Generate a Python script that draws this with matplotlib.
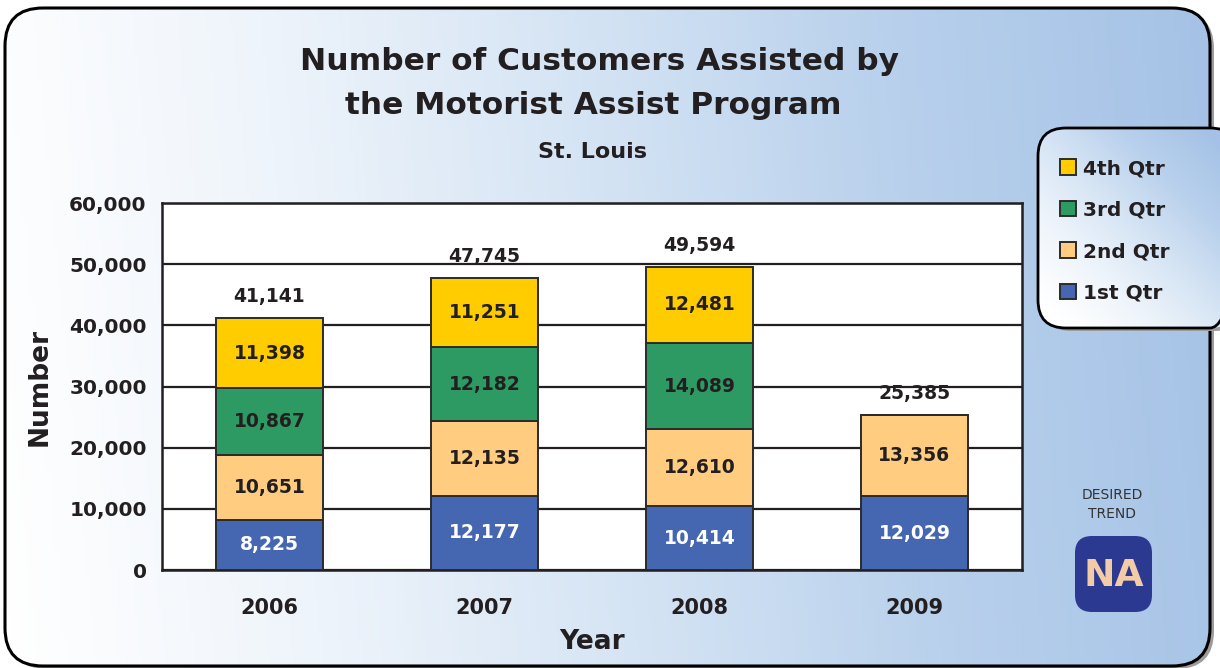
import numpy as np
import matplotlib.pyplot as plt
from matplotlib.patches import FancyBboxPatch
from matplotlib.colors import LinearSegmentedColormap

# data
years = ['2006', '2007', '2008', '2009']
q1 = [8225, 12177, 10414, 12029]
q2 = [10651, 12135, 12610, 13356]
q3 = [10867, 12182, 14089, 0]
q4 = [11398, 11251, 12481, 0]
totals = [41141, 47745, 49594, 25385]
quarters = ['1st Qtr', '2nd Qtr', '3rd Qtr', '4th Qtr']
colors = ['#4566b0', '#ffcc80', '#2e9a63', '#ffcc00']
text_colors = ['white', '#231f20', '#231f20', '#231f20']
yticks = [0, 10000, 20000, 30000, 40000, 50000, 60000]

fig = plt.figure(figsize=(12.2, 6.68), dpi=100)
fig.patch.set_facecolor('white')

# background in pixel coordinates
bg = fig.add_axes([0, 0, 1, 1])
bg.axis('off')

cmap = LinearSegmentedColormap.from_list('panel', ['#ffffff', '#eef4fb', '#d5e4f4', '#b8d0ec', '#a5c2e6'])

# shadow + rounded panel with gradient
shadow = FancyBboxPatch((9, 11), 1205, 658, boxstyle='round,pad=0,rounding_size=38',
                        fc='#9c9c9c', ec='none', zorder=0)
bg.add_patch(shadow)
panel = FancyBboxPatch((5, 8), 1205, 658, boxstyle='round,pad=0,rounding_size=38',
                       fc='none', ec='black', lw=2.2, zorder=3)
bg.add_patch(panel)
xx, yy = np.meshgrid(np.linspace(0, 1, 300), np.linspace(0, 1, 100))
grad = np.clip(xx * 0.95 + (1 - yy) * 0.05, 0, 1)
im = bg.imshow(grad, extent=(5, 1210, 666, 8), cmap=cmap, vmin=0, vmax=1, zorder=1)
im.set_clip_path(panel)

# legend box
lshadow = FancyBboxPatch((1043, 131), 200, 200, boxstyle='round,pad=0,rounding_size=28',
                         fc='#9c9c9c', ec='none', zorder=4)
bg.add_patch(lshadow)
lbox = FancyBboxPatch((1038, 128), 200, 200, boxstyle='round,pad=0,rounding_size=28',
                      fc='none', ec='black', lw=2, zorder=6)
bg.add_patch(lbox)
lgrad = np.clip(xx * 0.6 + (1 - yy) * 0.6 - 0.1, 0, 1)
lim = bg.imshow(lgrad, extent=(1038, 1238, 328, 128), cmap=cmap, vmin=0, vmax=1, zorder=5)
lim.set_clip_path(lbox)

# desired trend badge
bg.text(1112, 495, 'DESIRED', ha='center', va='center', fontsize=10, color='#333333', zorder=7)
bg.text(1112, 514, 'TREND', ha='center', va='center', fontsize=10, color='#333333', zorder=7)
badge = FancyBboxPatch((1075, 536), 77, 76, boxstyle='round,pad=0,rounding_size=17',
                       fc='#2b3990', ec='none', zorder=7)
bg.add_patch(badge)
bg.text(1113.5, 576, 'NA', ha='center', va='center', fontsize=27, fontweight='bold',
        color='#f3cba6', zorder=8)

# titles
bg.text(600, 62, 'Number of Customers Assisted by', ha='center', va='center',
        fontsize=22.5, fontweight='bold', color='#231f20', zorder=7)
bg.text(593, 106, 'the Motorist Assist Program', ha='center', va='center',
        fontsize=22.5, fontweight='bold', color='#231f20', zorder=7)
bg.text(593, 152, 'St. Louis', ha='center', va='center',
        fontsize=16, fontweight='bold', color='#231f20', zorder=7)

bg.set_xlim(0, 1220)
bg.set_ylim(668, 0)
bg.set_aspect('auto')

# main chart
ax = fig.add_axes([162 / 1220, 1 - 570 / 668, 860 / 1220, 367 / 668])
ax.set_facecolor('white')
x = np.arange(len(years))
series = [q1, q2, q3, q4]
bottom = np.zeros(len(years))
handles = []
for vals, name, c, tc in zip(series, quarters, colors, text_colors):
    vals = np.array(vals, dtype=float)
    bars = ax.bar(x, vals, 0.5, bottom=bottom, color=c, edgecolor='#2b2b2b',
                  linewidth=1.4, label=name, zorder=3)
    handles.append(bars)
    for xi, b, v in zip(x, bottom, vals):
        if v > 0:
            ax.text(xi, b + v / 2, f'{int(v):,}', ha='center', va='center',
                    fontsize=13.5, fontweight='bold', color=tc, zorder=4)
    bottom += vals

for xi, t in zip(x, totals):
    ax.text(xi, t + 3500, f'{t:,}', ha='center', va='center',
            fontsize=13.5, fontweight='bold', color='#231f20', zorder=4)

ax.set_xlim(-0.5, 3.5)
ax.set_ylim(0, 60000)
ax.set_yticks(yticks)
ax.set_yticklabels([f'{v:,}' for v in yticks])
ax.set_xticks(x)
ax.set_xticklabels(years)
ax.yaxis.grid(True, color='#231f20', linewidth=1.6)
ax.set_axisbelow(True)
for s in ax.spines.values():
    s.set_linewidth(1.8)
    s.set_color('#231f20')
ax.tick_params(axis='y', length=0, pad=11, labelsize=14.5, labelcolor='#231f20')
ax.tick_params(axis='x', length=0, pad=20, labelsize=15, labelcolor='#231f20')
for lab in ax.get_xticklabels() + ax.get_yticklabels():
    lab.set_fontweight('bold')
ax.set_ylabel('Number', fontsize=19, fontweight='bold', color='#231f20', labelpad=12)
ax.set_xlabel('Year', fontsize=19, fontweight='bold', color='#231f20', labelpad=8)

leg = fig.legend(handles[::-1], quarters[::-1], loc='upper left',
                 bbox_to_anchor=(1052 / 1220, 1 - 151 / 668), frameon=False,
                 prop={'size': 14.5, 'weight': 'bold'}, handlelength=0.8, handleheight=0.8,
                 handletextpad=0.35, labelspacing=1.12, borderaxespad=0)
leg.set_zorder(10)
for t in leg.get_texts():
    t.set_color('#231f20')

fig.savefig('out.png', dpi=100)
